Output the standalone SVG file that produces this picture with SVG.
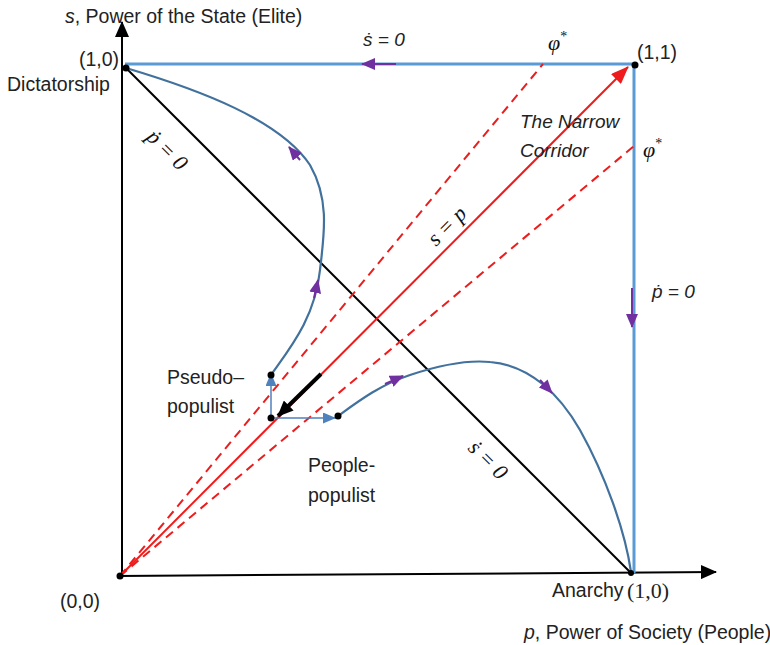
<svg xmlns="http://www.w3.org/2000/svg" width="770" height="645" viewBox="0 0 770 645">
<defs>
<style>
.lbl{font-family:"Liberation Sans",Arial,sans-serif;font-size:19.5px;fill:#222}
.it{font-family:"Liberation Sans",Arial,sans-serif;font-size:19px;font-style:italic;fill:#222}
.math{font-family:"Liberation Serif","DejaVu Serif",serif;font-size:22px;font-style:italic;fill:#111}
.axis{stroke:#000;stroke-width:2;fill:none}
.bound{stroke:#5B9BD5;stroke-width:3;fill:none}
.curve{stroke:#41719C;stroke-width:2.2;fill:none}
.red{stroke:#EE1C1C;stroke-width:2;fill:none}
.dash{stroke:#EE1C1C;stroke-width:2;fill:none;stroke-dasharray:9,6}
.purp{stroke:#7030A0;stroke-width:2;fill:none}
.small{stroke:#4F81BD;stroke-width:1.5;fill:none}
</style>
<marker id="axArrow" markerUnits="userSpaceOnUse" markerWidth="16" markerHeight="14" refX="15" refY="7" orient="auto"><path d="M0,0 L16,7 L0,14 z" fill="#000"/></marker>
<marker id="redArrow" markerUnits="userSpaceOnUse" markerWidth="18" markerHeight="14" refX="17" refY="7" orient="auto"><path d="M0,0 L18,7 L0,14 z" fill="#EE1C1C"/></marker>
<marker id="purpArrow" markerUnits="userSpaceOnUse" markerWidth="14" markerHeight="12" refX="13" refY="6" orient="auto"><path d="M0,0 L14,6 L0,12 z" fill="#7030A0"/></marker>
<marker id="blueArrow" markerUnits="userSpaceOnUse" markerWidth="13" markerHeight="11" refX="12" refY="5.5" orient="auto"><path d="M0,0 L13,5.5 L0,11 z" fill="#4F81BD"/></marker>
<marker id="blkArrow" markerUnits="userSpaceOnUse" markerWidth="16" markerHeight="14" refX="15" refY="7" orient="auto"><path d="M0,0 L16,7 L0,14 z" fill="#000"/></marker>
</defs>

<g id="connectors">
  <line class="axis" x1="122" y1="578" x2="122" y2="22" marker-end="url(#axArrow)"/>
  <line class="axis" x1="118" y1="576" x2="716" y2="572" marker-end="url(#axArrow)"/>
  <line class="bound" x1="125" y1="64" x2="635" y2="64"/>
  <line class="bound" x1="634" y1="64" x2="634" y2="573"/>
  <line class="axis" x1="126" y1="68" x2="631" y2="573"/>
  <line class="dash" x1="120" y1="576" x2="543" y2="64"/>
  <line class="dash" x1="120" y1="576" x2="634" y2="146"/>
  <line class="red" x1="120" y1="576" x2="628" y2="67" marker-end="url(#redArrow)"/>
  <line class="purp" x1="396" y1="64" x2="362" y2="64" marker-end="url(#purpArrow)"/>
  <line class="purp" x1="632" y1="288" x2="632" y2="327" marker-end="url(#purpArrow)"/>
  <path class="curve" d="M271,375 C290,348 315,318 320,270 C324,235 330,200 310,165 C280,120 200,90 126,68"/>
  <path class="curve" d="M338,416 C360,400 380,385 410,375 C440,365 470,360 490,362 C530,365 560,395 580,430 C605,475 625,530 631,572"/>
  <line class="purp" x1="314" y1="298" x2="318" y2="280" marker-end="url(#purpArrow)"/>
  <line class="purp" x1="300" y1="160" x2="289" y2="147" marker-end="url(#purpArrow)"/>
  <line class="purp" x1="385" y1="384" x2="403" y2="376" marker-end="url(#purpArrow)"/>
  <line class="purp" x1="540" y1="380" x2="552" y2="393" marker-end="url(#purpArrow)"/>
  <line class="small" x1="271" y1="418" x2="271" y2="374" marker-end="url(#blueArrow)"/>
  <line class="small" x1="271" y1="418" x2="335" y2="418" marker-end="url(#blueArrow)"/>
  <line x1="321" y1="374" x2="278" y2="416" stroke="#000" stroke-width="4" marker-end="url(#blkArrow)"/>
</g>

<g id="node-origin"><circle cx="120" cy="576" r="3.5" fill="#000"/><text class="lbl" x="60" y="608">(0,0)</text></g>
<g id="node-dictatorship"><circle cx="126" cy="68" r="3.5" fill="#000"/><text class="lbl" x="79" y="66">(1,0)</text><text class="lbl" x="7" y="91">Dictatorship</text></g>
<g id="node-11"><circle cx="635" cy="65" r="3.5" fill="#000"/><text class="lbl" x="637" y="59">(1,1)</text></g>
<g id="node-anarchy"><circle cx="631" cy="573" r="3" fill="#000"/><text class="lbl" x="552" y="597" font-size="19">Anarchy</text><text x="627" y="598" font-family="'Liberation Serif','DejaVu Serif',serif" font-size="22" fill="#222">(1,0)</text></g>
<g id="node-pseudo"><circle cx="271" cy="375" r="3.5" fill="#000"/><text class="lbl" x="167" y="384">Pseudo–</text><text class="lbl" x="167" y="413">populist</text></g>
<g id="node-start"><circle cx="271" cy="418" r="3.5" fill="#000"/></g>
<g id="node-people"><circle cx="338" cy="416" r="3.5" fill="#000"/><text class="lbl" x="308" y="472">People-</text><text class="lbl" x="308" y="502">populist</text></g>

<g id="labels">
  <text class="lbl" x="65" y="23"><tspan font-style="italic">s</tspan>, Power of the State (Elite)</text>
  <text class="lbl" x="524" y="639" font-size="19"><tspan font-style="italic">p</tspan>, Power of Society (People)</text>
  <text class="it" x="363" y="46">ṡ = 0</text>
  <text class="it" x="652" y="298">ṗ = 0</text>
  <text class="it" x="520" y="128">The Narrow</text>
  <text class="it" x="520" y="157">Corridor</text>
  <text class="math" x="548" y="50" font-size="23">φ<tspan font-size="14" dy="-9" font-style="normal">*</tspan></text>
  <text class="math" x="643" y="157" font-size="23">φ<tspan font-size="14" dy="-9" font-style="normal">*</tspan></text>
  <text class="math" text-anchor="middle" transform="translate(167,150) rotate(45)" y="7">ṗ = 0</text>
  <text class="math" text-anchor="middle" transform="translate(488,460) rotate(45)" y="7">ṡ = 0</text>
  <text class="math" text-anchor="middle" transform="translate(447,226) rotate(-45)" y="7">s = p</text>
</g>
</svg>
